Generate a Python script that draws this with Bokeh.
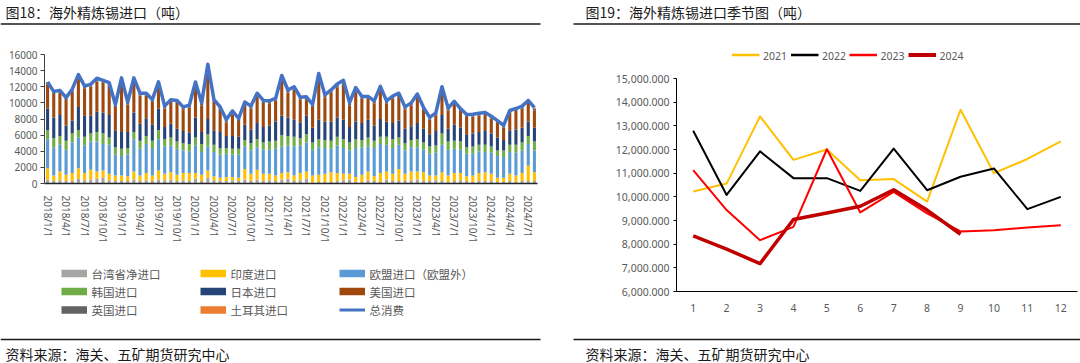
from bokeh.plotting import figure
from bokeh.models import ColumnDataSource, Range1d, FixedTicker, NumeralTickFormatter
from bokeh.core.properties import value
from bokeh.embed import file_html
from bokeh.resources import INLINE

# ---------------- data: left chart (monthly, 2018/1 .. 2024/8) ----------------
taiwan = [500,300,400,300,300,600,400,500,600,700,400,300,
          300,300,500,300,400,300,500,400,500,300,400,300,
          600,300,700,400,300,300,400,300,500,300,500,300,
          400,300,500,600,300,400,600,100,200,200,200,300,
          400,500,200,200,400,300,200,500,300,300,300,400,
          500,300,300,400,300,200,300,400,300,200,300,300,
          300,200,200,300,200,300,300,300]
india = [1400,700,1100,800,1000,1300,900,1200,900,900,800,700,
         700,600,1000,700,900,700,1100,800,900,800,900,1000,
         700,800,900,500,400,500,400,400,1300,900,1200,900,
         800,700,800,800,700,900,900,900,900,1000,1200,1000,
         800,700,600,900,1100,600,1100,1000,900,1500,900,1100,
         1000,1100,700,600,1100,800,1000,900,600,800,1000,1100,
         900,500,500,900,800,1000,1900,1100]
eu = [3600,3500,3300,3100,3800,3800,3400,3500,3700,3300,3600,2600,
      2400,2700,4000,3300,3600,3400,3900,3400,3300,3200,2800,2700,
      3400,2800,3000,3000,2900,2900,2800,2900,2800,2900,2800,3000,
      3000,3300,3300,3300,3600,3400,3600,3200,3400,3200,2900,3400,
      3200,2900,3600,3400,3100,3500,3600,3300,3200,3000,2900,3000,
      3000,2800,2700,2800,3400,3200,3000,2900,2800,2700,2700,2500,
      2600,2700,2600,2700,2800,2800,2700,2700]
korea = [1100,1100,1100,1100,1100,900,1100,1000,1200,1300,900,900,
         900,800,900,1000,1000,900,1100,900,1000,900,900,900,
         1000,1000,1500,900,800,700,700,700,800,900,1000,900,
         1000,1000,1400,1200,1200,900,1000,900,1000,1000,1000,1100,
         1100,1000,1100,900,1100,900,900,1000,1100,900,900,900,
         1000,900,900,900,1400,1000,1000,1000,800,900,800,900,
         800,700,800,900,1000,1000,1000,1100]
japan = [2700,2600,2600,1900,1600,2900,2600,2200,2500,2600,2800,2100,
         2100,2000,2400,2100,2200,2000,2700,1500,1700,1600,1500,1400,
         2500,1500,1900,1800,2000,1500,1600,1500,1900,1700,2000,1900,
         2000,2400,2400,2300,2100,2000,2300,1800,2400,2300,2400,2400,
         2400,1900,2200,2100,2200,1900,2200,1900,2000,2100,1800,1700,
         2000,1700,1500,1800,2300,1600,2000,1700,1600,1600,1600,1700,
         1600,1600,1300,1800,1900,1800,1800,1700]
usa = [3000,2900,2750,3150,3600,3600,3400,3600,3750,3700,3700,2900,
       6300,3400,4000,3500,2800,2800,2900,2300,2700,3200,2700,3100,
       4000,3300,6400,3500,2800,1640,2700,1960,2500,2600,3400,3000,
       2750,2550,4600,3100,3800,2800,2050,2600,5350,3000,3600,3750,
       4500,2650,3700,3000,2600,2750,3650,2250,3050,3100,2400,2600,
       3300,2350,1800,1950,3200,2250,2600,2100,2150,2100,2000,2000,
       1850,1800,1500,2150,2300,2400,2300,2200]
uk = [200,200,200,200,200,300,200,200,300,200,200,200,
      300,200,200,200,200,200,300,200,200,200,200,200,
      300,200,300,200,200,200,200,200,200,200,200,200,
      200,200,300,200,200,200,200,200,300,200,200,300,
      300,200,300,200,200,200,300,200,200,200,200,200,
      200,200,200,200,200,200,200,200,200,200,200,200,
      200,200,200,200,200,200,200,200]
turkey = [100,100,100,100,100,100,100,100,100,100,100,100,
          100,100,100,100,100,100,100,100,100,100,100,100,
          100,100,100,100,100,200,200,100,100,100,100,100,
          100,100,100,100,100,100,100,100,100,100,100,100,
          100,200,200,100,100,100,100,100,100,100,100,100,
          100,100,100,100,100,100,100,100,100,100,100,100,
          100,100,100,100,100,100,100,100]
total = [12600,11400,11550,10650,11700,13500,12100,12300,13050,12800,12500,9800,
         13100,10100,13100,11200,11200,10400,12600,9600,10400,10300,9500,9700,
         12600,10000,14800,10400,9500,7940,9000,8060,10100,9600,11200,10300,
         10250,10550,13400,11600,12000,10700,10750,9800,13650,11000,11600,12350,
         12800,10050,11900,10800,10800,10250,12050,10250,10850,11200,9500,10000,
         11100,9450,8200,8750,12000,9350,10200,9300,8550,8600,8700,8800,
         8350,7800,7200,9050,9300,9600,10300,9400]

tick_labels = ["2018/1/1","2018/4/1","2018/7/1","2018/10/1",
               "2019/1/1","2019/4/1","2019/7/1","2019/10/1",
               "2020/1/1","2020/4/1","2020/7/1","2020/10/1",
               "2021/1/1","2021/4/1","2021/7/1","2021/10/1",
               "2022/1/1","2022/4/1","2022/7/1","2022/10/1",
               "2023/1/1","2023/4/1","2023/7/1","2023/10/1",
               "2024/1/1","2024/4/1","2024/7/1"]

series_names = ["台湾省净进口", "印度进口", "欧盟进口（欧盟外）", "韩国进口",
                "日本进口", "美国进口", "英国进口", "土耳其进口"]
series_colors = ["#A5A5A5", "#FFC000", "#5B9BD5", "#70AD47",
                 "#264478", "#9E480E", "#636363", "#ED7D31"]
total_name = "总消费"
total_color = "#4472C4"

# ---------------- data: right chart (seasonal) ----------------
season_months = [1, 2, 3, 4, 5, 6, 7, 8, 9, 10, 11, 12]
y2021 = [10225, 10560, 13400, 11560, 12000, 10700, 10750, 9800, 13680, 11000, 11600, 12340]
y2022 = [12790, 10080, 11920, 10790, 10790, 10250, 12040, 10280, 10850, 11200, 9480, 10000]
y2023 = [11130, 9440, 8170, 8730, 12010, 9340, 10210, 9300, 8540, 8590, 8700, 8800]
y2024 = [8350, 7790, 7180, 9040, 9320, 9600, 10300, 9440, 8420]
season_names = ["2021", "2022", "2023", "2024"]
season_colors = ["#FFC000", "#000000", "#FF0000", "#C00000"]
season_widths = [2, 2, 2, 3.5]

left_title = "图18：海外精炼锡进口（吨）"
right_title = "图19：海外精炼锡进口季节图（吨）"
source_note = "资料来源：海关、五矿期货研究中心"

CJK = "Noto Sans CJK SC"
NUM = "Noto Sans"
GREY = "#595959"


def place(p, left, top, z):
    p.styles = {"position": "absolute", "left": f"{left}px", "top": f"{top}px",
                "z-index": str(z)}


# ---------------- decoration layer (titles, rules, legends, sources) ----------------
W, H = 1080, 363
deco = figure(width=W, height=H, x_range=Range1d(0, W), y_range=Range1d(H, 0),
              x_axis_type=None, y_axis_type=None, output_backend="svg",
              toolbar_location=None, min_border=0, min_border_left=0, min_border_right=0,
              min_border_top=0, min_border_bottom=0)
deco.outline_line_color = None
deco.xgrid.visible = False
deco.ygrid.visible = False
deco.background_fill_color = "white"
deco.border_fill_color = "white"

deco.text(x=[5, 585], y=[11.5, 11.5], text=[left_title, right_title],
          text_font=value(CJK), text_font_size="14px", text_color="#1a1a1a",
          text_baseline="middle", text_align="left")
deco.text(x=[5, 585], y=[353, 353], text=[source_note, source_note],
          text_font=value(CJK), text_font_size="14px", text_color="#1a1a1a",
          text_baseline="middle", text_align="left")
deco.segment(x0=[0, 573, 0, 573], y0=[23.5, 23.5, 339, 339],
             x1=[540, 1080, 540, 1080], y1=[23.5, 23.5, 339, 339],
             line_color="#1a1a1a", line_width=1.5)

# left legend (3 columns x 3 rows)
leg_col_x = [61, 200, 339]
leg_row_y = [273, 291, 309.5]
sw_x, sw_y, sw_c, lt_x, lt_y, lt_t = [], [], [], [], [], []
for k, nm in enumerate(series_names):
    cx = leg_col_x[k % 3]
    cy = leg_row_y[k // 3]
    sw_x.append(cx + 12.75)
    sw_y.append(cy)
    sw_c.append(series_colors[k])
    lt_x.append(cx + 30)
    lt_y.append(cy)
    lt_t.append(nm)
deco.rect(x=sw_x, y=sw_y, width=25.5, height=7.5, fill_color=sw_c, line_color=None)
deco.segment(x0=[leg_col_x[2]], y0=[leg_row_y[2]], x1=[leg_col_x[2] + 25.5], y1=[leg_row_y[2]],
             line_color=total_color, line_width=3)
lt_x.append(leg_col_x[2] + 30)
lt_y.append(leg_row_y[2])
lt_t.append(total_name)
deco.text(x=lt_x, y=lt_y, text=lt_t, text_font=value(CJK), text_font_size="11.5px",
          text_color=GREY, text_baseline="middle", text_align="left")

# right legend (one row)
rl_x = [731.5, 790.5, 849, 908]
for xs, c, w in zip(rl_x, season_colors, season_widths):
    deco.segment(x0=[xs], y0=[54.5], x1=[xs + 27.5], y1=[54.5], line_color=c,
                 line_width=w + 0.5)
deco.text(x=[x + 31 for x in rl_x], y=[55] * 4, text=season_names, text_font=value(NUM),
          text_font_size="10.5px", text_color=GREY, text_baseline="middle", text_align="left")
place(deco, 0, 0, 0)

# ---------------- left chart ----------------
n = len(total)
idx = list(range(n))
keys = ["tw", "ind", "eu", "kr", "jp", "us", "uk", "tr"]
src = ColumnDataSource(dict(x=idx, tw=taiwan, ind=india, eu=eu, kr=korea, jp=japan,
                            us=usa, uk=uk, tr=turkey, total=total))

p1 = figure(width=556, height=230, x_range=Range1d(-0.5, n - 0.5), y_range=Range1d(0, 16000),
            output_backend="svg", toolbar_location=None, min_border=0,
            min_border_left=44, min_border_right=19, min_border_top=24, min_border_bottom=77)
p1.outline_line_color = None
p1.xgrid.visible = False
p1.ygrid.visible = False
p1.background_fill_alpha = 0
p1.border_fill_alpha = 0

p1.vbar_stack(keys, x="x", width=0.5, color=series_colors, line_color=None, source=src)
p1.line("x", "total", source=src, line_color=total_color, line_width=3.5, line_join="round")

p1.yaxis.ticker = FixedTicker(ticks=[0, 2000, 4000, 6000, 8000, 10000, 12000, 14000, 16000])
p1.yaxis.major_label_text_font = NUM
p1.yaxis.major_label_text_font_size = "10px"
p1.yaxis.major_label_text_color = GREY
p1.yaxis.axis_line_color = "#404040"
p1.yaxis.major_tick_line_color = "#404040"
p1.yaxis.major_tick_in = 0
p1.yaxis.major_tick_out = 4
p1.yaxis.minor_tick_line_color = None
p1.yaxis.major_label_standoff = 3

tick_pos = list(range(0, n, 3))
p1.xaxis.ticker = FixedTicker(ticks=tick_pos)
p1.xaxis.major_label_overrides = {t: lab for t, lab in zip(tick_pos, tick_labels)}
p1.xaxis.major_label_orientation = "vertical"
p1.xaxis.major_label_text_font = NUM
p1.xaxis.major_label_text_font_size = "10px"
p1.xaxis.major_label_text_color = GREY
p1.xaxis.axis_line_color = "#262626"
p1.xaxis.axis_line_width = 1.3
p1.xaxis.major_tick_line_color = None
p1.xaxis.minor_tick_line_color = None
p1.xaxis.major_label_standoff = 6
place(p1, 0, 30, 1)

# ---------------- right chart ----------------
p2 = figure(width=524, height=300, x_range=Range1d(0.5, 12.5), y_range=Range1d(6000, 15000),
            output_backend="svg", toolbar_location=None, min_border=0,
            min_border_left=120, min_border_right=3, min_border_top=48, min_border_bottom=39)
p2.outline_line_color = None
p2.xgrid.visible = False
p2.ygrid.visible = False
p2.background_fill_alpha = 0
p2.border_fill_alpha = 0

for ys, c, w in zip([y2021, y2022, y2023, y2024], season_colors, season_widths):
    p2.line(season_months[:len(ys)], ys, line_color=c, line_width=w, line_join="round")

p2.yaxis.ticker = FixedTicker(ticks=list(range(6000, 15001, 1000)))
p2.yaxis.formatter = NumeralTickFormatter(format="0,0.000")
p2.yaxis.major_label_text_font = NUM
p2.yaxis.major_label_text_font_size = "10.5px"
p2.yaxis.major_label_text_color = GREY
p2.yaxis.axis_line_color = "#000000"
p2.yaxis.major_tick_line_color = "#000000"
p2.yaxis.major_tick_in = 0
p2.yaxis.major_tick_out = 3
p2.yaxis.minor_tick_line_color = None
p2.yaxis.major_label_standoff = 4

p2.xaxis.ticker = FixedTicker(ticks=season_months)
p2.xaxis.major_label_text_font = NUM
p2.xaxis.major_label_text_font_size = "10.5px"
p2.xaxis.major_label_text_color = GREY
p2.xaxis.axis_line_color = "#000000"
p2.xaxis.major_tick_line_color = None
p2.xaxis.minor_tick_line_color = None
p2.xaxis.major_label_standoff = 6
place(p2, 556, 30, 2)

open("out.html", "w").write(file_html([deco, p1, p2], INLINE))
